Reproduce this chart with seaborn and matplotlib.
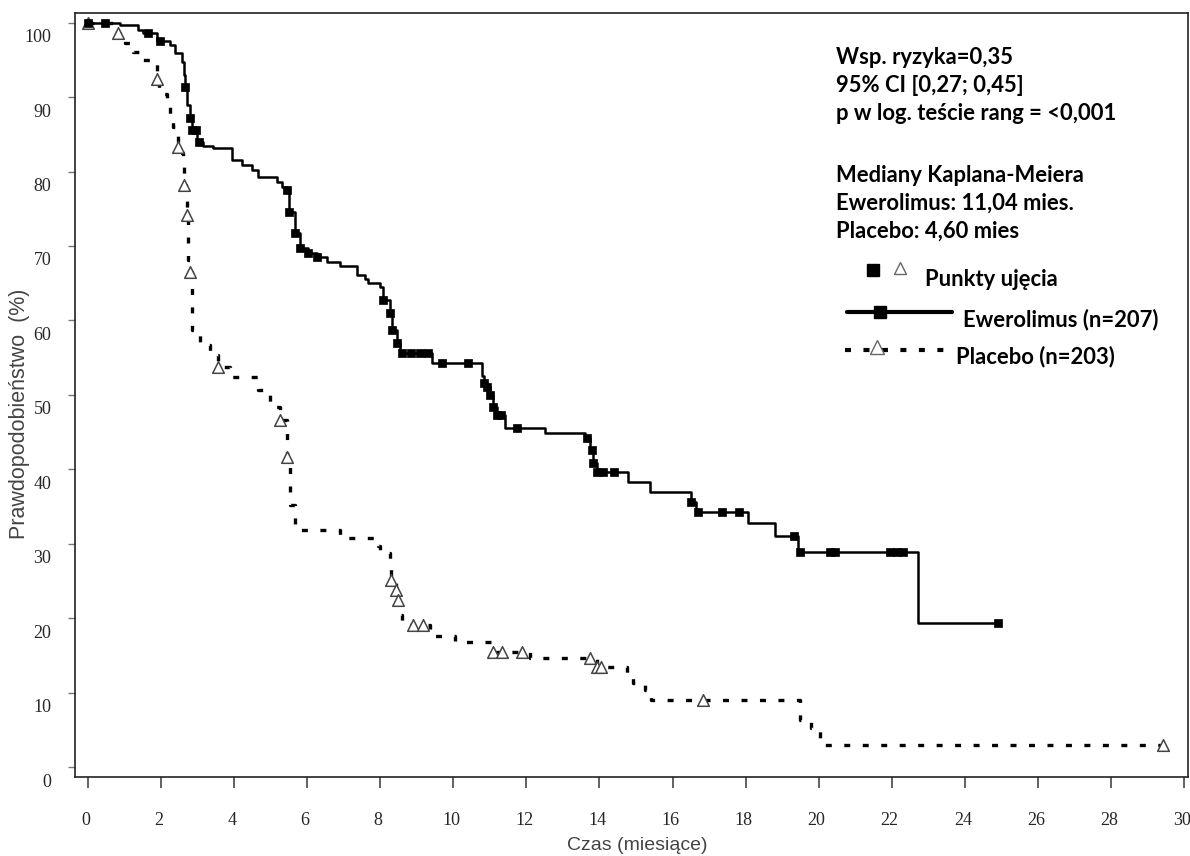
import numpy as np
import pandas as pd
import matplotlib
matplotlib.use("Agg")
import matplotlib.pyplot as plt
import matplotlib.transforms as mtransforms
from matplotlib.lines import Line2D
import seaborn as sns

# Ewerolimus: step times (months) and survival (%) after each step
ewe_t = [0, 0.88, 1.37, 1.5, 1.9, 2.24, 2.38, 2.57, 2.62, 2.66, 2.72, 2.79, 2.85, 2.98,
         3.15, 3.42, 3.94, 4.22, 4.49, 4.65, 5.17, 5.31, 5.45, 5.5, 5.67, 5.8, 6.02, 6.27,
         6.54, 6.9, 7.36, 7.58, 7.67, 7.99, 8.08, 8.27, 8.32, 8.46, 8.54, 9.42, 10.79,
         10.85, 10.92, 11.0, 11.09, 11.2, 11.42, 12.51, 13.6, 13.75, 13.82, 13.93, 14.78,
         15.38, 16.5, 16.65, 18.07, 18.8, 19.44, 22.72, 24.91]
ewe_s = [100, 99.7, 99.0, 98.6, 97.6, 97.0, 95.9, 94.7, 93.0, 91.4, 89.0, 87.2, 85.6, 84.0,
         83.4, 83.2, 81.6, 80.9, 80.2, 79.3, 78.6, 77.9, 77.5, 74.6, 71.7, 69.7, 69.1, 68.5,
         67.8, 67.3, 66.1, 65.6, 65.0, 64.5, 62.7, 61.0, 58.7, 57.0, 55.6, 54.3, 52.5,
         51.6, 51.1, 50.0, 48.4, 47.3, 45.5, 44.9, 44.2, 42.6, 40.8, 39.6, 38.3,
         36.9, 35.6, 34.3, 32.8, 31.0, 28.9, 19.35, 19.35]
# Ewerolimus censoring times
ewe_cens = [0.0, 0.47, 1.64, 1.97, 2.66, 2.79, 2.85, 2.95, 3.05, 5.45, 5.5, 5.67, 5.8,
            6.02, 6.27, 8.08, 8.27, 8.32, 8.46, 8.6, 8.85, 9.1, 9.3, 9.69, 10.4, 10.85,
            10.92, 11.0, 11.09, 11.2, 11.3, 11.74, 13.66, 13.8, 13.82, 13.93, 14.1, 14.4,
            16.5, 16.7, 17.35, 17.82, 19.33, 19.49, 20.3, 20.45, 21.95, 22.15, 22.3, 24.91]

# Placebo
pla_t = [0, 0.8, 1.0, 1.23, 1.48, 1.83, 1.88, 1.94, 2.16, 2.24, 2.33, 2.46, 2.57, 2.6,
         2.62, 2.68, 2.71, 2.74, 2.79, 2.85, 3.07, 3.34, 3.56, 3.89, 4.65, 4.98, 5.26,
         5.45, 5.53, 5.67, 6.9, 7.94, 7.99, 8.27, 8.29, 8.43, 8.49, 8.51, 8.6, 9.36, 10.05,
         11.09, 12.1, 13.93, 14.76, 14.92, 15.25, 15.4, 19.49, 19.79, 20.05, 29.43]
pla_s = [100, 98.6, 97.3, 96.1, 95.0, 94.6, 92.4, 90.4, 89.4, 87.6, 86.0, 83.3, 82.5, 80.6,
         78.2, 76.4, 74.2, 68.1, 66.5, 58.7, 56.7, 55.4, 53.7, 52.4, 50.7, 48.4, 46.6,
         41.6, 35.2, 31.8, 30.8, 29.7, 28.8, 27.5, 25.1, 23.8, 22.4, 20.4, 19.1, 17.6, 16.8,
         15.5, 14.6, 13.4, 12.6, 11.3, 10.3, 9.0, 6.3, 5.2, 3.0, 3.0]
pla_cens = [0.0, 0.82, 1.88, 2.46, 2.62, 2.71, 2.79, 3.56, 5.26, 5.45, 8.29, 8.43, 8.49,
            8.9, 9.17, 11.09, 11.33, 11.88, 13.74, 13.93, 14.05, 16.84, 29.43]

stats_lines = ["Wsp. ryzyka=0,35", "95% CI [0,27; 0,45]", "p w log. teście rang = <0,001",
               "", "Mediany Kaplana-Meiera", "Ewerolimus: 11,04 mies.", "Placebo: 4,60 mies"]


def km_at(times, surv, t):
    idx = np.searchsorted(times, t, side="right") - 1
    return np.asarray(surv)[idx]


ewe = pd.DataFrame({"t": ewe_t, "s": ewe_s})
pla = pd.DataFrame({"t": pla_t, "s": pla_s})
ewe_c = pd.DataFrame({"t": ewe_cens, "s": km_at(ewe_t, ewe_s, ewe_cens)})
pla_c = pd.DataFrame({"t": pla_cens, "s": km_at(pla_t, pla_s, pla_cens)})

sns.set_style("ticks")
plt.rcParams["font.family"] = ["Liberation Serif", "DejaVu Sans"]
plt.rcParams["lines.scale_dashes"] = False

W, H = 1190, 856
fig = plt.figure(figsize=(W / 100, H / 100), dpi=100)
ax = fig.add_axes([75 / W, 1 - 777 / H, 1113 / W, 764 / H])

dash = (0, (4.3, 9.0))
sns.lineplot(data=pla, x="t", y="s", ax=ax, estimator=None, sort=False,
             drawstyle="steps-post", color="black", lw=2.4, linestyle=dash,
             dash_capstyle="butt")
sns.lineplot(data=ewe, x="t", y="s", ax=ax, estimator=None, sort=False,
             drawstyle="steps-post", color="black", lw=1.8)
sns.scatterplot(data=pla_c, x="t", y="s", ax=ax, marker="^", s=70,
                facecolor="white", edgecolor="#444444", linewidth=1.1, zorder=4)
sns.scatterplot(data=ewe_c, x="t", y="s", ax=ax, marker="s", s=38,
                color="black", edgecolor="black", linewidth=0.5, zorder=5)

ax.set_xlim(-0.356, 30.11)
ax.set_ylim(-1.34, 101.3)
ax.set_xticks(np.arange(0, 31, 2))
ax.set_yticks(np.arange(0, 101, 10))
ax.tick_params(axis="x", direction="out", length=8, width=1.3, color="#555555",
               pad=17, labelsize=13)
ax.tick_params(axis="y", direction="out", length=5, width=1.0, color="#777777",
               pad=12, labelsize=13)
for lab in ax.get_yticklabels():
    lab.set_transform(lab.get_transform() +
                      mtransforms.ScaledTranslation(0, -13 / 100, fig.dpi_scale_trans))
for lab in ax.get_xticklabels():
    lab.set_transform(lab.get_transform() +
                      mtransforms.ScaledTranslation(-2 / 100, 0, fig.dpi_scale_trans))
for sp in ax.spines.values():
    sp.set_visible(True)
    sp.set_linewidth(1.2)
    sp.set_color("#222222")

ax.set_xlabel("Czas (miesiące)", family="Liberation Sans", fontsize=14, color="#444444")
ax.set_ylabel("Prawdopodobieństwo  (%)", family="Liberation Sans", fontsize=15.5,
              color="#444444")
ax.xaxis.set_label_coords((637 - 75) / 1113, -(845 - 777) / 764)
ax.yaxis.set_label_coords(-(75 - 20) / 1113, (777 - 414) / 764)
ax.xaxis.label.set_va("center")
ax.yaxis.label.set_va("center")

txt_kw = dict(family="Lato", weight="bold", fontsize=15.8, va="center", ha="left",
              color="black")

# statistics text block
line_y = [57, 85, 113, 0, 175, 203, 231]
for txt, yy in zip(stats_lines, line_y):
    if txt:
        fig.text(836 / W, 1 - yy / H, txt, **txt_kw)


# legend, drawn by hand
def fl(x, y):
    return x / W, 1 - y / H


fig.add_artist(Line2D(*zip(fl(873, 270)), marker="s", ms=8, color="black", ls="none",
                      transform=fig.transFigure))
fig.add_artist(Line2D(*zip(fl(900, 268)), marker="^", ms=9, mfc="white", mec="#666666",
                      ls="none", transform=fig.transFigure))
fig.text(925 / W, 1 - 280 / H, "Punkty ujęcia", **txt_kw)
fig.add_artist(Line2D(*zip(fl(847, 312), fl(952, 312)), color="black", lw=3,
                      transform=fig.transFigure))
fig.add_artist(Line2D(*zip(fl(880, 312)), marker="s", ms=9, color="black", ls="none",
                      transform=fig.transFigure))
fig.text(963 / W, 1 - 320 / H, "Ewerolimus (n=207)", **txt_kw)
fig.add_artist(Line2D(*zip(fl(845, 350), fl(944, 350)), color="black", lw=3,
                      linestyle=(0, (4.3, 9.0)), dash_capstyle="butt",
                      transform=fig.transFigure))
fig.add_artist(Line2D(*zip(fl(877, 347)), marker="^", ms=10, mfc="white", mec="#666666",
                      ls="none", transform=fig.transFigure))
fig.text(956 / W, 1 - 357 / H, "Placebo (n=203)", **txt_kw)

fig.savefig("out.png", dpi=100)
